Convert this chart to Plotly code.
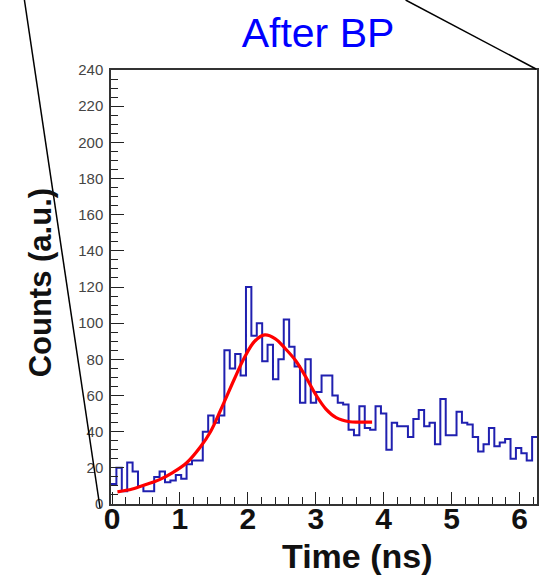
import numpy as np
import plotly.graph_objects as go

# Time histogram: first bin edge and bin width (ns), then counts per bin
bin_start = -0.015
bin_width = 0.0795
counts = [11, 20, 7, 23, 18, 10, 7, 7, 15, 18,
          12, 13, 16, 14, 22, 24, 24, 40, 49, 45,
          49, 85, 75, 83, 71, 120, 93, 100, 79, 88,
          69, 80, 102, 87, 76, 56, 80, 56, 62, 71,
          71, 60, 56, 55, 41, 38, 54, 42, 41, 54,
          50, 30, 45, 43, 43, 37, 47, 52, 43, 45,
          33, 58, 38, 38, 51, 45, 44, 37, 29, 33,
          42, 32, 34, 36, 25, 31, 28, 24, 37]

# Fitted curve, sampled points (time in ns, counts)
fit_t = [0.08, 0.3, 0.5, 0.7, 0.9, 1.1, 1.3, 1.45, 1.6, 1.8, 1.95, 2.1,
         2.25, 2.4, 2.55, 2.7, 2.85, 3.0, 3.15, 3.3, 3.5, 3.65, 3.83]
fit_y = [6.7, 8.3, 10.8, 13.5, 17.5, 22.8, 31.5, 40, 52, 69, 81, 90,
         93.5, 91.5, 86, 79.5, 70.5, 60.5, 52.5, 47.8, 45.5, 45.3, 45.3]

x_ticks = [0, 1, 2, 3, 4, 5, 6]
y_ticks = list(range(0, 241, 20))

# step outline: left edge of every bin plus the closing right edge
edges = bin_start + bin_width * np.arange(len(counts) + 1)
step_y = counts + [counts[-1]]

FONT = "Liberation Sans"

fig = go.Figure()
fig.add_trace(go.Scatter(
    x=edges, y=step_y, mode="lines", line_shape="hv",
    line=dict(color="#2020b0", width=2), hoverinfo="skip", showlegend=False,
))
fig.add_trace(go.Scatter(
    x=fit_t, y=fit_y, mode="lines", line_shape="spline",
    line=dict(color="#ff0000", width=3.2), showlegend=False,
))

fig.update_layout(
    width=541, height=577,
    margin=dict(l=111, r=2, t=70, b=73),
    paper_bgcolor="white", plot_bgcolor="white",
    font=dict(family=FONT, color="#333333"),
    title=dict(text="After BP", font=dict(family=FONT, size=41, color="#0000ff"),
               x=318 / 541, xref="container", xanchor="center",
               y=1 - 33 / 577, yref="container", yanchor="middle"),
)

fig.update_xaxes(
    range=[-0.015, 6.258], tickvals=x_ticks, ticktext=[str(v) for v in x_ticks],
    ticks="inside", ticklen=12, tickwidth=1.3, tickcolor="#222222",
    minor=dict(dtick=0.2, ticks="inside", ticklen=7, tickwidth=1.3, tickcolor="#222222"),
    tickfont=dict(family=FONT, size=30, color="#111111", weight="bold"),
    ticklabelstandoff=-13,
    showline=True, linecolor="#333333", linewidth=1.5, mirror=True,
    showgrid=False, zeroline=False,
)
fig.update_yaxes(
    range=[0, 240], tickvals=y_ticks,
    ticks="inside", ticklen=13, tickwidth=1.3, tickcolor="#222222",
    minor=dict(dtick=5, ticks="inside", ticklen=7, tickwidth=1.3, tickcolor="#222222"),
    tickfont=dict(family=FONT, size=15, color="#444444"),
    ticklabelstandoff=3,
    showline=True, linecolor="#333333", linewidth=1.5, mirror=True,
    showgrid=False, zeroline=False,
)

# axis titles
fig.add_annotation(text="<b>Time (ns)</b>", xref="paper", yref="paper",
                   x=(359 - 111) / 428, y=(504 - 556) / 434,
                   xanchor="center", yanchor="middle", showarrow=False,
                   font=dict(family=FONT, size=34, color="#111111"))
fig.add_annotation(text="<b>Counts (a.u.)</b>", xref="paper", yref="paper",
                   x=(40 - 111) / 428, y=(504 - 283) / 434, textangle=-90,
                   xanchor="center", yanchor="middle", showarrow=False,
                   font=dict(family=FONT, size=31, color="#111111"))

# zoom-indicator lines
fig.add_shape(type="line", xref="paper", yref="paper",
              x0=(24 - 111) / 428, y0=504 / 434, x1=(100 - 111) / 428, y1=(504 - 508) / 434,
              line=dict(color="black", width=1.5))
fig.add_shape(type="line", xref="paper", yref="paper",
              x0=(407 - 111) / 428, y0=504 / 434, x1=(538 - 111) / 428, y1=(504 - 69) / 434,
              line=dict(color="black", width=1.5))

fig.write_html("out.html")
